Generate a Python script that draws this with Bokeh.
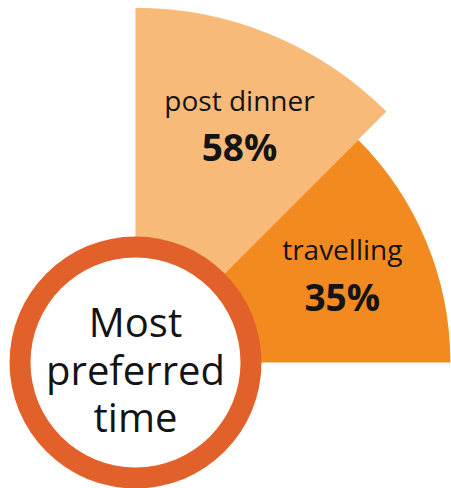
import math
from bokeh.plotting import figure
from bokeh.models import Range1d, ColumnDataSource
from bokeh.core.properties import value
from bokeh.embed import file_html
from bokeh.resources import INLINE

# ---- data ----
categories = ["travelling", "post dinner"]
percent = [35, 58]
labels = ["35%", "58%"]
center_title = ["Most", "preferred", "time"]

# ---- style / layout ----
W, H = 451, 488
COLORS = ["#F28A1F", "#F8BA78"]
RING = "#E2612A"
TXT = "#141414"
CX, CY = 135, 126          # centre of the rose (data units = px)
R0, K = 254.0, 40.0 / 23.0  # radius scale: r = R0 + K * value
SPAN = math.pi / 4          # each sector spans 45 degrees
FONT = value("Open Sans")
DY = 14                     # baseline correction for text

p = figure(width=W, height=H, output_backend="svg", toolbar_location=None,
           x_range=Range1d(0, W), y_range=Range1d(0, H),
           min_border=0, outline_line_color=None)
p.axis.visible = False
p.grid.visible = False
p.background_fill_color = "white"
p.border_fill_color = "white"

starts = [i * SPAN for i in range(len(categories))]
ends = [s + SPAN for s in starts]
radii = [R0 + K * v for v in percent]

src = ColumnDataSource(dict(x=[CX] * len(categories), y=[CY] * len(categories),
                            r=radii, s=starts, e=ends, c=COLORS))
p.wedge(x="x", y="y", radius="r", start_angle="s", end_angle="e",
        fill_color="c", line_color=None, source=src)

# label anchors inside each sector
ax, ay = [], []
for s, r in zip(starts, radii):
    a = s + 0.45 * SPAN
    ax.append(CX + 0.70 * r * math.cos(a))
    ay.append(CY + 0.70 * r * math.sin(a))

p.text(x=ax, y=[y + 23 + DY for y in ay], text=categories, text_align="center",
       text_baseline="alphabetic", text_font=FONT, text_font_size="28px",
       text_color=TXT)
p.text(x=ax, y=[y - 24 + DY for y in ay], text=labels, text_align="center",
       text_baseline="alphabetic", text_font=FONT, text_font_size="37px",
       text_font_style="bold", text_color=TXT)

# centre badge
p.circle(x=[CX], y=[CY], radius=126, fill_color=RING, line_color=None)
p.circle(x=[CX], y=[CY], radius=105, fill_color="white", line_color=None)
p.text(x=[CX] * 3, y=[CY + 27 + DY, CY - 21 + DY, CY - 68 + DY], text=center_title,
       text_align="center", text_baseline="alphabetic", text_font=FONT,
       text_font_size="40px", text_color=TXT)

open("out.html", "w").write(file_html(p, INLINE))
